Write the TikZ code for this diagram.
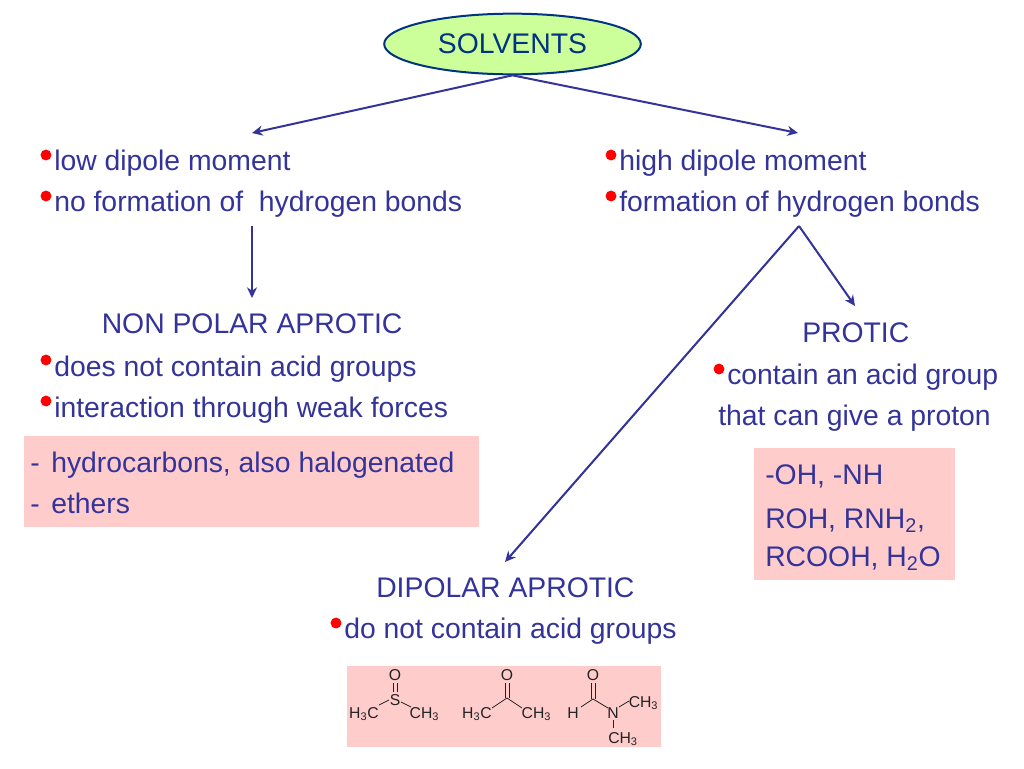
\documentclass[tikz,border=0pt]{standalone}
\usepackage{fontspec}
\setmainfont{Liberation Sans}
\usetikzlibrary{shapes.geometric,arrows.meta}
\definecolor{ink}{HTML}{333399}
\definecolor{navy}{HTML}{003380}
\definecolor{pinkbox}{HTML}{FFCCCC}
\definecolor{limefill}{HTML}{CCFF99}
\definecolor{chemink}{HTML}{222222}
\tikzset{
  x=0.75pt,y=-0.75pt,
  lbl/.style={anchor=base west,inner sep=0pt,text=ink,font=\fontsize{21.25}{24}\selectfont},
  dotmark/.style={circle,fill=red,inner sep=0pt,minimum size=8.2pt},
  panel/.style={fill=pinkbox,draw=none},
  conn/.style={draw=ink,line width=1.5pt,-{Stealth[length=8pt,width=7.5pt]}},
  chem/.style={inner sep=0pt,anchor=base,text=chemink,font=\fontsize{11.8}{13}\selectfont},
  bond/.style={draw=chemink,line width=0.6pt},
}
\begin{document}
\begin{tikzpicture}
\useasboundingbox (0,0) rectangle (1024,768);
\fill[white] (0,0) rectangle (1024,768);
% panels
\fill[panel] (24,436) rectangle (479,527);
\fill[panel] (754,448) rectangle (955,580);
\fill[panel] (347,666) rectangle (661,747);
% root
\node[ellipse,draw=navy,line width=1.5pt,fill=limefill,inner sep=0pt,minimum width=192.5pt,minimum height=45.5pt,text=navy,font=\fontsize{21.25}{24}\selectfont] (root) at (512.5,44) {SOLVENTS};
% free ends
\coordinate (lefthead) at (252,133);
\coordinate (righthead) at (798,133);
\coordinate (ltop) at (252,226);
\coordinate (lend) at (252,298);
\coordinate (rtop) at (799,226);
\coordinate (pend) at (855,306);
\coordinate (dend) at (505,562);
\draw[conn] (root.south) -- (lefthead);
\draw[conn] (root.south) -- (righthead);
\draw[conn] (ltop) -- (lend);
\draw[conn] (rtop) -- (pend);
\draw[conn] (rtop) -- (dend);
% left column
\node[dotmark] (d1) at (46,155) {};
\node[lbl] (t1) at (54,170) {low dipole moment};
\node[dotmark] (d2) at (46,196) {};
\node[lbl] (t2) at (54,211) {no formation of\ \ hydrogen bonds};
\node[lbl] (t3) at (101.5,333) {NON POLAR APROTIC};
\node[dotmark] (d3) at (46,360) {};
\node[lbl] (t4) at (54,376) {does not contain acid groups};
\node[dotmark] (d4) at (46,401) {};
\node[lbl] (t5) at (54,417) {interaction through weak forces};
\node[lbl] (t6) at (30,472) {-\kern2.8pt\ hydrocarbons, also halogenated};
\node[lbl] (t7) at (30,513) {-\kern2.8pt\ ethers};
% right column
\node[dotmark] (d5) at (611,155) {};
\node[lbl] (t8) at (619,170) {high dipole moment};
\node[dotmark] (d6) at (611,196) {};
\node[lbl] (t9) at (619,211) {formation of hydrogen bonds};
\node[lbl] (t10) at (802,342) {PROTIC};
\node[dotmark] (d7) at (719,369) {};
\node[lbl] (t11) at (727,384) {contain an acid group};
\node[lbl] (t12) at (718,425) {that can give a proton};
\node[lbl] (t13) at (765,484) {-OH, -NH};
\node[lbl] (t14) at (765,528) {ROH, RNH\textsubscript{2},};
\node[lbl] (t15) at (765,566) {RCOOH, H\textsubscript{2}O};
% centre
\node[lbl] (t16) at (376,597) {DIPOLAR APROTIC};
\node[dotmark] (d8) at (336,623) {};
\node[lbl] (t17) at (344,638) {do not contain acid groups};
% DMSO
\node[chem] (o1) at (395,680.5) {O};
\node[chem] (s1) at (395,705) {S};
\node[chem] (c1) at (364,718) {H\textsubscript{3}C};
\node[chem] (c2) at (424.5,718) {CH\textsubscript{3}};
\draw[bond] (393,683) -- (393,692);
\draw[bond] (397,683) -- (397,692);
\draw[bond] (379,705) -- (389,700);
\draw[bond] (401,702) -- (411,707);
% acetone
\node[chem] (o2) at (507,680.5) {O};
\node[chem] (c3) at (477,718) {H\textsubscript{3}C};
\node[chem] (c4) at (536.5,718) {CH\textsubscript{3}};
\coordinate (a2) at (507,698);
\draw[bond] (505,683) -- (505,698);
\draw[bond] (509,683) -- (509,698);
\draw[bond] (492,708) -- (a2) -- (522,708);
% DMF
\node[chem] (o3) at (593,680.5) {O};
\node[chem] (h3) at (573,718) {H};
\node[chem] (n3) at (613,718) {N};
\node[chem] (c5) at (643.5,707) {CH\textsubscript{3}};
\node[chem] (c6) at (623,743) {CH\textsubscript{3}};
\coordinate (a3) at (593,699);
\draw[bond] (591,683) -- (591,699);
\draw[bond] (595,683) -- (595,699);
\draw[bond] (581,707) -- (a3) -- (608,708);
\draw[bond] (619,707) -- (629,701);
\draw[bond] (613,720) -- (613,728);
\end{tikzpicture}
\end{document}
